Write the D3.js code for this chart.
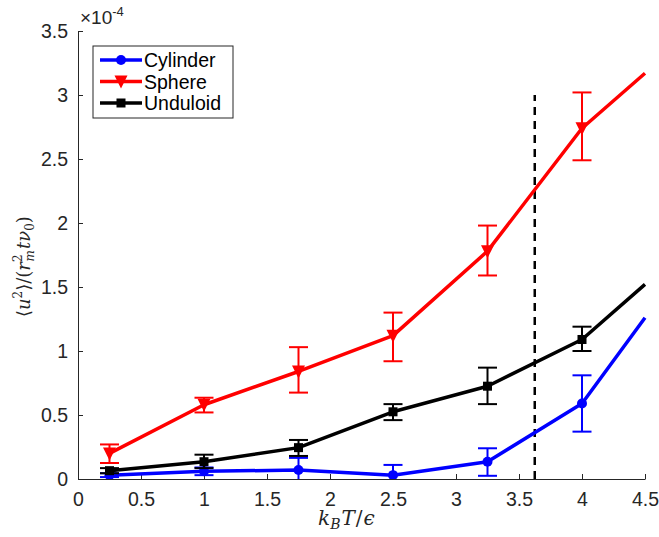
<!DOCTYPE html>
<html lang="en">
<head>
<meta charset="utf-8">
<title>Mean square displacement vs temperature</title>
<script src="https://d3js.org/d3.v7.min.js"></script>
<style>
  body { margin: 0; background: #fff; }
  .tick text { font-family: "Liberation Sans", Arial, sans-serif; font-size: 19.5px; fill: #262626; }
  .mathlbl { font-family: "DejaVu Serif", "Liberation Serif", serif; font-style: italic; fill: #262626; }
</style>
</head>
<body>
<script>
// data (y values in units of 1e-4)
var temps = [0.25, 1, 1.75, 2.5, 3.25, 4, 4.5];
var cylinder = [0.03, 0.06, 0.07, 0.03, 0.135, 0.59, 1.26];
var cylinderLo = [0.015, 0.03, -0.02, -0.05, 0.025, 0.37, null];
var cylinderHi = [0.045, 0.09, 0.165, 0.11, 0.24, 0.81, null];
var sphere = [0.20, 0.58, 0.84, 1.12, 1.78, 2.74, 3.17];
var sphereLo = [0.125, 0.52, 0.675, 0.92, 1.59, 2.49, null];
var sphereHi = [0.27, 0.635, 1.03, 1.30, 1.98, 3.02, null];
var unduloid = [0.065, 0.135, 0.245, 0.525, 0.725, 1.09, 1.52];
var unduloidLo = [0.045, 0.085, 0.18, 0.46, 0.585, 1.0, null];
var unduloidHi = [0.085, 0.19, 0.305, 0.585, 0.87, 1.19, null];
var xTicks = [0, 0.5, 1, 1.5, 2, 2.5, 3, 3.5, 4, 4.5];
var yTicks = [0, 0.5, 1, 1.5, 2, 2.5, 3, 3.5];
var transitionT = 3.625;
var transitionTop = 3.0;

var width = 659, height = 537;
var mLeft = 78, mRight = 645, mTop = 31, mBottom = 479;

var svg = d3.select("body").append("svg")
  .attr("width", width)
  .attr("height", height);

var x = d3.scaleLinear().domain([0, 4.5]).range([mLeft, mRight]);
var y = d3.scaleLinear().domain([0, 3.5]).range([mBottom, mTop]);

// axes (MATLAB style: ticks inside, no box)
svg.append("g")
  .attr("transform", "translate(0," + mBottom + ")")
  .call(d3.axisBottom(x).tickValues(xTicks).tickSizeInner(-5).tickSizeOuter(0).tickPadding(13)
    .tickFormat(function(d) { return d3.format("")(d); }));
svg.append("g")
  .attr("transform", "translate(" + mLeft + ",0)")
  .call(d3.axisLeft(y).tickValues(yTicks).tickSizeInner(-5).tickSizeOuter(0).tickPadding(10)
    .tickFormat(function(d) { return d3.format("")(d); }));
svg.selectAll(".domain").attr("stroke", "#262626").attr("stroke-width", 1);
svg.selectAll(".tick line").attr("stroke", "#262626");

// exponent
var ex = svg.append("text")
  .attr("x", mLeft + 2).attr("y", 24)
  .attr("font-family", "Liberation Sans, Arial, sans-serif")
  .attr("font-size", 19).attr("fill", "#262626");
ex.append("tspan").text("\u00d710");
ex.append("tspan").attr("dy", -8).attr("font-size", 13).text("-4");

// dashed transition line
svg.append("line")
  .attr("x1", x(transitionT)).attr("x2", x(transitionT))
  .attr("y1", y(0)).attr("y2", y(transitionTop))
  .attr("stroke", "#000").attr("stroke-width", 2.5)
  .attr("stroke-dasharray", "8,6");

var series = [
  { name: "Cylinder", color: "#0000ff", vals: cylinder, lo: cylinderLo, hi: cylinderHi, marker: "circle" },
  { name: "Sphere", color: "#ff0000", vals: sphere, lo: sphereLo, hi: sphereHi, marker: "tri" },
  { name: "Unduloid", color: "#000000", vals: unduloid, lo: unduloidLo, hi: unduloidHi, marker: "square" }
];

svg.append("defs").append("clipPath").attr("id", "plotclip")
  .append("rect").attr("x", mLeft).attr("y", 0).attr("width", mRight - mLeft + 20).attr("height", mBottom);

var line = d3.line()
  .x(function(d) { return x(d[0]); })
  .y(function(d) { return y(d[1]); });

function drawMarker(g, type, cx, cy, color) {
  if (type == "circle") {
    g.append("circle").attr("cx", cx).attr("cy", cy).attr("r", 5).attr("fill", color);
  } else if (type == "tri") {
    g.append("path")
      .attr("d", "M" + (cx - 6.5) + "," + (cy - 6) + "L" + (cx + 6.5) + "," + (cy - 6) + "L" + cx + "," + (cy + 7) + "Z")
      .attr("fill", color);
  } else {
    g.append("rect").attr("x", cx - 4.5).attr("y", cy - 4.5).attr("width", 9).attr("height", 9).attr("fill", color);
  }
}

var plot = svg.append("g").attr("clip-path", "url(#plotclip)");

series.forEach(function(s) {
  var g = plot.append("g");
  var pts = temps.map(function(t, i) { return [t, s.vals[i]]; });
  g.append("path")
    .datum(pts)
    .attr("d", line)
    .attr("fill", "none")
    .attr("stroke", s.color)
    .attr("stroke-width", 3.5)
    .attr("stroke-linejoin", "round");
  temps.forEach(function(t, i) {
    if (s.lo[i] == null) return;
    var cx = x(t);
    g.append("line").attr("x1", cx).attr("x2", cx).attr("y1", y(s.lo[i])).attr("y2", y(s.hi[i]))
      .attr("stroke", s.color).attr("stroke-width", 2);
    [s.lo[i], s.hi[i]].forEach(function(v) {
      g.append("line").attr("x1", cx - 9.5).attr("x2", cx + 9.5).attr("y1", y(v)).attr("y2", y(v))
        .attr("stroke", s.color).attr("stroke-width", 2);
    });
    drawMarker(g, s.marker, cx, y(s.vals[i]), s.color);
  });
});

// legend
var lg = svg.append("g").attr("transform", "translate(93,46)");
lg.append("rect").attr("width", 140).attr("height", 72)
  .attr("fill", "#fff").attr("stroke", "#262626").attr("stroke-width", 1);
series.forEach(function(s, i) {
  var yy = 14 + i * 21.5;
  lg.append("line").attr("x1", 7).attr("x2", 49).attr("y1", yy).attr("y2", yy)
    .attr("stroke", s.color).attr("stroke-width", 3.5);
  drawMarker(lg, s.marker, 28, yy, s.color);
  lg.append("text").attr("x", 51).attr("y", yy + 7)
    .attr("font-family", "Liberation Sans, Arial, sans-serif")
    .attr("font-size", 19.5).attr("fill", "#000").text(s.name);
});

// x label: k_B T / epsilon
var xl = svg.append("text").attr("class", "mathlbl")
  .attr("x", 318).attr("y", 525)
  .attr("font-size", 20);
xl.append("tspan").text("k");
xl.append("tspan").attr("dy", 4).attr("font-size", 14).text("B");
xl.append("tspan").attr("dy", -4).attr("dx", 1).text("T");
xl.append("tspan").attr("font-style", "normal").attr("dx", 1).text("/");
xl.append("tspan").attr("dx", 1).text("\u03f5");

// y label: <u^2>/(r_m^2 t nu_0)
var yl = svg.append("text").attr("class", "mathlbl")
  .attr("transform", "translate(30,317) rotate(-90)")
  .attr("font-size", 18);
yl.append("tspan").attr("font-style", "normal").text("\u27e8");
yl.append("tspan").text("u");
yl.append("tspan").attr("dy", -8).attr("font-size", 12).attr("font-style", "normal").text("2");
yl.append("tspan").attr("dy", 8).attr("font-style", "normal").text("\u27e9/(");
yl.append("tspan").text("r");
yl.append("tspan").attr("dy", -8).attr("font-size", 12).attr("font-style", "normal").text("2");
yl.append("tspan").attr("dx", -7).attr("dy", 12).attr("font-size", 12).text("m");
yl.append("tspan").attr("dy", -4).attr("dx", 1).text("t\u03bd");
yl.append("tspan").attr("dy", 4).attr("font-size", 12).attr("font-style", "normal").text("0");
yl.append("tspan").attr("dy", -4).attr("font-style", "normal").text(")");
</script>
</body>
</html>
